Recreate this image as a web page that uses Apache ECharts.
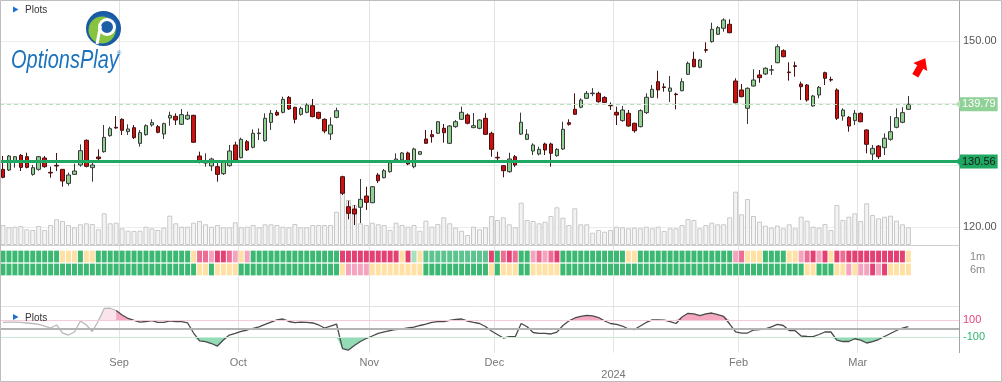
<!DOCTYPE html>
<html><head><meta charset="utf-8">
<script src="https://cdn.jsdelivr.net/npm/echarts@6.0.0/dist/echarts.min.js"></script>
<style>html,body{margin:0;padding:0;background:#fff;}#chart{width:1002px;height:382px;}</style>
</head><body><div id="chart"></div>
<script>
// ---------------- DATA ----------------
const tradingDays = [
  ['2023-08', [4,7,8,9,10,11,14,15,16,17,18,21,22,23,24,25,28,29,30,31]],
  ['2023-09', [1,5,6,7,8,11,12,13,14,15,18,19,20,21,22,25,26,27,28,29]],
  ['2023-10', [2,3,4,5,6,9,10,11,12,13,16,17,18,19,20,23,24,25,26,27,30,31]],
  ['2023-11', [1,2,3,6,7,8,9,10,13,14,15,16,17,20,21,22,24,27,28,29,30]],
  ['2023-12', [1,4,5,6,7,8,11,12,13,14,15,18,19,20,21,22,26,27,28,29]],
  ['2024-01', [2,3,4,5,8,9,10,11,12,16,17,18,19,22,23,24,25,26,29,30,31]],
  ['2024-02', [1,2,5,6,7,8,9,12,13,14,15,16,20,21,22,23,26,27,28,29]],
  ['2024-03', [1,4,5,6,7,8,11,12,13]]
];
const monthLabels = {'2023-09':'Sep','2023-10':'Oct','2023-11':'Nov','2023-12':'Dec','2024-01':'\n2024','2024-02':'Feb','2024-03':'Mar'};
const blankDays = 8;

// [open, high, low, close]
const ohlc = [
[129.30,131.45,127.85,128.01],[129.19,131.61,129.03,131.45],[130.43,131.45,129.57,131.34],[131.56,131.77,129.03,129.62],[131.34,131.99,129.46,129.62],
[128.49,130.00,128.28,129.57],[129.30,131.45,129.08,131.34],[131.13,131.45,129.57,129.73],[128.82,129.73,127.96,128.71],[129.95,131.94,129.03,129.84],
[129.30,129.35,126.50,127.42],[127.04,128.76,126.67,128.39],[128.49,130.22,128.39,129.03],[130.00,133.33,129.73,132.31],[133.98,134.14,129.62,129.78],
[129.57,130.32,127.31,130.00],[131.29,132.53,130.64,131.02],[132.15,136.45,131.99,134.46],[134.73,136.18,134.57,135.86],[136.08,137.90,135.86,135.97],
[137.37,137.53,134.84,135.59],[135.38,136.56,134.84,135.81],[136.02,136.45,134.19,134.41],[133.49,135.65,132.96,135.22],[134.89,136.56,134.73,136.34],
[136.45,137.37,136.18,136.83],[136.18,136.45,135.11,135.27],[135.00,136.83,134.19,136.67],[137.58,138.60,136.34,138.01],[137.85,138.33,136.45,137.26],
[136.56,139.03,136.45,138.12],[137.42,138.60,137.26,138.01],[138.01,138.10,133.60,133.66],[131.45,132.15,130.27,130.64],[130.32,131.88,129.73,130.64],
[129.84,131.18,129.03,130.97],[129.73,130.54,127.31,128.49],[128.60,130.81,128.39,130.54],[129.89,133.23,129.73,132.26],[133.23,133.76,130.64,130.81],
[131.18,134.41,131.08,134.14],[133.76,134.03,132.26,132.42],[132.85,135.75,132.69,135.11],[135.06,135.91,134.03,135.16],[133.92,138.33,133.76,137.53],
[136.88,138.87,135.65,138.33],[138.49,138.87,137.90,138.06],[138.49,141.02,138.33,140.59],[140.91,141.13,138.87,139.03],[139.30,139.41,136.72,137.37],
[138.17,139.41,137.96,139.14],[138.49,139.95,138.33,139.68],[139.57,140.65,137.69,137.80],[138.49,138.60,137.37,137.53],[137.37,137.53,135.11,135.48],
[135.00,137.69,134.03,136.45],[137.69,139.25,137.53,138.76],[128.11,128.27,125.16,125.44],[123.27,124.24,121.24,122.21],[122.90,123.55,120.32,122.10],
[123.18,127.74,120.65,124.47],[125.00,126.50,122.74,123.98],[123.92,126.60,123.85,126.50],[128.39,128.70,127.10,127.47],[127.95,129.35,127.85,129.08],
[128.92,130.60,128.75,130.37],[130.53,131.89,130.43,130.97],[130.81,132.10,130.65,131.94],[131.94,132.15,129.97,130.16],[129.73,132.80,129.47,132.58],
[131.73,132.27,131.60,132.15],[134.19,135.65,133.40,133.50],[134.89,135.65,133.60,134.56],[135.11,137.10,135.00,136.98],[135.92,136.61,133.60,135.21],
[133.50,136.45,133.40,136.29],[136.18,137.25,136.00,136.98],[137.37,139.40,137.26,138.50],[138.06,138.33,136.56,136.73],[136.02,138.39,135.97,136.34],
[135.92,137.37,135.76,137.26],[137.53,138.34,134.84,134.95],[135.11,135.37,131.34,132.53],[131.24,132.15,130.37,131.14],[129.89,130.00,128.02,129.08],
[128.92,131.98,128.76,130.97],[131.34,131.61,129.68,130.00],[134.99,138.44,134.84,136.89],[134.14,135.76,134.03,134.95],[132.26,133.50,131.61,133.23],
[131.77,132.95,131.56,132.53],[133.39,133.60,131.61,132.42],[133.39,133.60,129.73,131.89],[131.50,132.70,131.34,132.53],[132.58,136.98,132.42,135.76],
[136.82,137.37,136.34,136.56],[138.98,141.56,138.06,138.18],[139.31,140.76,139.15,140.48],[140.76,141.94,140.63,141.56],[141.50,142.40,141.10,141.60],
[141.56,141.82,140.05,140.21],[140.90,141.10,140.00,140.10],[139.60,140.11,138.87,139.55],[138.50,139.40,136.45,138.06],[137.15,139.52,136.98,138.87],
[138.34,138.87,136.18,136.29],[136.73,136.82,135.21,135.53],[136.18,138.98,136.08,138.76],[138.44,141.56,138.23,140.92],[140.92,142.90,140.80,142.21],
[143.44,145.21,140.76,142.10],[142.60,143.18,141.82,142.50],[141.89,144.36,140.16,142.42],[141.45,141.66,138.98,141.35],[141.98,143.98,141.89,143.44],
[144.63,146.66,144.52,146.40],[147.05,148.27,145.76,145.85],[145.76,147.10,145.60,146.94],[148.60,149.79,148.11,148.50],[149.89,152.95,149.73,151.89],
[151.08,152.42,150.97,152.15],[152.05,153.66,151.50,153.39],[152.69,153.50,151.24,151.34],[143.55,143.98,139.95,140.05],[142.10,143.06,140.92,141.02],
[139.15,142.53,136.61,142.37],[142.74,145.44,142.63,143.71],[144.52,145.32,143.27,144.08],[144.68,145.76,144.52,145.60],[145.30,146.13,144.52,145.35],
[146.50,149.47,146.40,149.08],[148.44,148.66,147.37,147.47],[145.00,146.56,143.60,144.90],[146.00,146.66,144.24,145.90],[143.06,143.44,140.48,142.63],
[142.90,143.06,140.21,140.48],[139.52,141.29,139.40,141.13],[141.29,142.74,140.76,142.53],[144.89,145.05,142.90,143.98],[143.80,144.24,143.44,143.70],
[142.10,142.37,137.26,137.53],[137.90,139.15,137.15,138.87],[137.69,137.90,135.37,136.29],[137.15,138.87,136.45,138.34],[138.34,138.50,136.89,136.98],
[135.65,135.76,131.89,133.34],[131.77,133.23,130.69,132.69],[133.06,133.23,130.97,131.34],[132.79,135.11,131.61,134.31],[134.14,137.90,133.92,135.37],
[136.08,139.15,135.92,137.63],[136.89,139.31,136.73,138.44],[138.98,141.13,138.87,139.79]
];

const volume = [
20,17.7,18.3,19,15.7,15,19,15,20,25.7,
24,20,17.7,20.7,21.7,21,15.7,31.7,21.7,22.3,
16.7,14.3,14,14.3,18.3,16.7,15,17.3,29.3,21.7,
18.3,18.3,22.3,24,20.7,18.3,20,17.7,17.7,22.7,
17.7,18.3,20,17.7,20.7,20.7,20,18.3,17.7,21,
17.7,17.7,20,20,20,20,33.3,65,45,40,
21.7,20,22.3,20.7,20,15,22.3,20,18.3,20,
14.3,24.3,18.3,21,27.7,21.7,17.3,14.3,10,18.3,
15.7,17.7,29,25,27.7,20.7,17.7,42.3,25,24,
21.7,23.3,29,37.7,27.3,20,36.7,20.7,20.7,12.3,
15,13.3,15,18.3,17.7,16.7,17.3,16.7,18.3,16.7,
18.3,14,16.7,16.7,20,26,25,16.7,20,22.3,
20.7,20.7,27.7,53.3,30.7,46,29,23.3,19.3,17.3,
19.3,16.7,20.7,16.7,28.3,24.3,18.3,17.3,21,15,
40,25,28.3,31.7,24,41.7,30,26.7,28.3,29.3,
24.3,20.7,17.7
];

const cci = [
72,77,77,72,66,60,49,31,8,43,
-50,-73,-38,89,43,-32,89,234,236,210,
158,118,95,77,83,92,72,72,91,83,
81,66,-50,-140,-148,-171,-200,-131,-73,-55,
-32,-15,5,22,49,77,101,112,83,69,
77,72,66,43,8,31,54,-231,-246,-194,
-148,-113,-84,-55,-38,-21,-9,-1,8,17,
37,54,72,81,81,95,106,112,87,72,
60,25,-27,-67,-108,-92,-92,60,23,-44,
-53,-55,-61,-40,37,89,124,141,155,147,
129,89,60,49,31,-3,-9,31,72,101,
101,98,83,60,135,178,172,150,172,181,
162,141,54,-36,-50,-50,-15,-9,-1,20,
49,37,-21,-23,-84,-90,-92,-67,-38,-38,
-131,-148,-148,-116,-131,-165,-148,-125,-90,-55,
-21,8,25
];
const cciWarmupDays = 20; // first days drawn faded

// signal rows, run-length encoded: [code, number of days]
const signal1mRuns = [['G',10],['Y',3],['G',1],['Y',2],['G',16],['Y',1],['r',2],['P',1],['R',2],['r',1],['P',1],['Y',1],['P',1],['G',15],['R',10],['Y',1],['R',1],['l',1],['Y',1],['L',11],['R',1],['G',1],['r',1],['R',1],['r',1],['G',2],['P',1],['r',1],['P',1],['r',1],['R',1],['G',11],['Y',2],['G',16],['P',1],['r',1],['Y',3],['G',4],['Y',2],['P',1],['r',1],['R',1],['P',1],['R',1],['Y',1],['R',1],['r',1],['R',10],['Y',1]];
const signal6mRuns = [['G',33],['Y',2],['G',1],['Y',4],['G',17],['Y',1],['P',4],['Y',9],['G',11],['Y',1],['G',1],['Y',3],['G',2],['Y',5],['G',41],['Y',2],['G',3],['Y',2],['P',1],['Y',1],['P',2],['R',1],['P',1],['R',1],['Y',4]];
const signalRows = ['6m', '1m'];

const lastPrice = 139.79;
const supportPrice = 130.56;
const priceTicks = [120, 130, 140, 150];
const priceLabels = [120, 150];
const oscLevels = [100, -100];
const arrowMark = {dayOffset: 1.5, price: 145.8};

// ---------------- BUILD ----------------
const FONT = '"Liberation Sans", Arial, sans-serif';
const dates = [];
const monthStart = {};
tradingDays.forEach(([m, days]) => {
  days.forEach((d, k) => {
    if (k === 0 && monthLabels[m]) monthStart[dates.length] = monthLabels[m];
    dates.push(m + '-' + String(d).padStart(2, '0'));
  });
});
const categories = dates.concat(Array.from({length: blankDays}, (_, k) => 'next-' + (k + 1)));
const isMonthStart = i => monthStart[i] !== undefined;

const candleData = ohlc.map(([o, h, l, c]) => [o, c, l, h]);
const heatColors = {G:'#0ba650', L:'#36b573', l:'#8fd9ad', Y:'#ffd98e', P:'#f28db0', r:'#e8497b', R:'#dc1150'};
function expand(runs){ const out=[]; runs.forEach(([c,n])=>{ for(let k=0;k<n;k++) out.push(c); }); return out; }
const heatData = [];
[[expand(signal6mRuns), 0], [expand(signal1mRuns), 1]].forEach(([codes, row]) => {
  codes.forEach((c, i) => heatData.push({value: [i, row], itemStyle: {color: heatColors[c]}}));
});
const W = cciWarmupDays;
const early = (arr) => arr.map((v, i) => i < W ? v : '-');
const late = (arr) => arr.map((v, i) => i >= W - 1 ? v : '-');
const pinkBase = cci.map(() => 100);
const pinkFill = cci.map(v => Math.max(v - 100, 0));
const greenBase = cci.map(v => Math.min(v, -100));
const greenFill = cci.map(v => Math.max(-100 - v, 0));
const arrowIdx = Math.round(dates.length - 1 + arrowMark.dayOffset);

function baseX(g, extra) {
  return Object.assign({type:'category', gridIndex:g, data:categories, boundaryGap:true,
    axisLine:{show:false}, axisTick:{show:false}, axisLabel:{show:false}, splitLine:{show:false}}, extra || {});
}
function oscLine(name, data, extra) {
  return Object.assign({type:'line', name, xAxisIndex:3, yAxisIndex:3, data, symbol:'none', silent:true,
    connectNulls:false, lineStyle:{opacity:0}}, extra);
}

const TAG_ARROW = 'path://M0,0 L10,0 L5,10 Z';

const option = {
  animation: false,
  backgroundColor: '#fff',
  textStyle: {fontFamily: FONT},
  grid: [
    {left:0, right:43, top:0, height:245},
    {left:0, right:43, top:145, height:100},
    {left:0, right:43, top:250, height:26},
    {left:0, right:43, top:306, height:46.7},
    {left:0, right:43, top:0, height:352.7}
  ],
  xAxis: [
    baseX(0, {axisLine:{show:true, lineStyle:{color:'#cfcfcf'}}}),
    baseX(1),
    baseX(2),
    baseX(3, {axisLine:{show:true, lineStyle:{color:'#9a9a9a'}},
      axisLabel:{show:true, interval:(i) => isMonthStart(i), formatter:(v, i) => monthStart[i] || '',
        color:'#777', fontSize:11, fontFamily:FONT, margin:4, lineHeight:12, padding:[0,6,0,0]}}),
    baseX(4, {splitLine:{show:true, interval:(i) => isMonthStart(i), lineStyle:{color:'#e3e3e3', width:1}}})
  ],
  yAxis: [
    {type:'value', gridIndex:0, position:'right', min:117.10, max:156.61,
      axisLine:{show:false}, axisTick:{show:false, customValues:priceTicks},
      splitLine:{show:true, lineStyle:{color:'#ececec'}},
      axisLabel:{customValues:priceLabels, formatter:v => v.toFixed(2), color:'#555', fontSize:11, margin:4, fontFamily:FONT}},
    {type:'value', gridIndex:1, min:0, max:100, show:false},
    {type:'category', gridIndex:2, data:signalRows, position:'right',
      axisLine:{show:false}, axisTick:{show:false}, splitLine:{show:false},
      axisLabel:{interval:0, color:'#8a8a8a', fontSize:11, margin:11, fontFamily:FONT}},
    {type:'value', gridIndex:3, position:'right', min:-277, max:262,
      axisLine:{show:false}, axisTick:{show:false}, splitLine:{show:false},
      axisLabel:{customValues:oscLevels, margin:4,
        formatter:v => v > 0 ? '{p|' + v + '}' : '{g|' + v + '}',
        rich:{p:{color:'#e8457a', fontSize:11, fontFamily:FONT}, g:{color:'#2eb574', fontSize:11, fontFamily:FONT}}}},
    {type:'value', gridIndex:4, position:'right', min:0, max:1,
      axisLine:{show:true, lineStyle:{color:'#a5a5a5'}}, axisTick:{show:false}, axisLabel:{show:false}, splitLine:{show:false}}
  ],
  series: [
    {type:'candlestick', name:'Price', xAxisIndex:0, yAxisIndex:0, data:candleData, barWidth:4, z:3,
      itemStyle:{color:'#8fd18f', color0:'#cc1111', borderColor:'#3a3a3a', borderColor0:'#4a1010', borderWidth:1},
      markLine:{silent:true, symbol:['none', TAG_ARROW], symbolSize:[13, 7], animation:false,
        data:[
          {yAxis:lastPrice, lineStyle:{color:'#b5e0bb', type:[4,3], width:1},
            label:{show:true, position:'end', distance:1, formatter:lastPrice.toFixed(2), color:'#fff',
              backgroundColor:'#8fd197', padding:[2,2,1,2], fontSize:11, fontFamily:FONT}},
          {yAxis:supportPrice, lineStyle:{color:'#1fa862', type:'solid', width:3},
            label:{show:true, position:'end', distance:1, formatter:supportPrice.toFixed(2), color:'#1a1a1a',
              backgroundColor:'#1fa862', padding:[2,2,1,2], fontSize:11, fontFamily:FONT}}
        ]},
      markPoint:{silent:true, symbol:'path://M6,0 L12,7 L8.6,7 L8.6,14 L3.4,14 L3.4,7 L0,7 Z', symbolSize:[16,20], symbolRotate:-30,
        itemStyle:{color:'#ff0000'}, label:{show:false},
        data:[{coord:[categories[arrowIdx], arrowMark.price]}]}
    },
    {type:'bar', name:'Volume', xAxisIndex:1, yAxisIndex:1, data:volume, barWidth:5, z:1,
      itemStyle:{color:'#f4f4f4', borderColor:'#c8c8c8', borderWidth:1}},
    {type:'scatter', name:'Signals', xAxisIndex:2, yAxisIndex:2, data:heatData, symbol:'rect', symbolSize:[5, 11.7], z:2},
    oscLine('levels', pinkBase.map(() => '-'), {z:1,
      markLine:{silent:true, symbol:'none', label:{show:false}, animation:false,
        data:[
          {yAxis:262, lineStyle:{color:'#e3e3e3', width:1, type:'solid'}},
          {yAxis:100, lineStyle:{color:'#f9cbd8', width:1, type:'solid'}},
          {yAxis:-100, lineStyle:{color:'#c6ecd7', width:1, type:'solid'}},
          {yAxis:0, lineStyle:{color:'#b3b3b3', width:2, type:'solid'}}
        ]}}),
    oscLine('posBaseEarly', early(pinkBase), {stack:'posE', z:2}),
    oscLine('posFillEarly', early(pinkFill), {stack:'posE', z:2, areaStyle:{color:'#fbe3eb', opacity:1}}),
    oscLine('posBase', late(pinkBase), {stack:'pos', z:2}),
    oscLine('posFill', late(pinkFill), {stack:'pos', z:2, areaStyle:{color:'#f5a9c1', opacity:1}}),
    oscLine('negBase', greenBase, {stack:'neg', stackStrategy:'all', z:2}),
    oscLine('negFill', greenFill, {stack:'neg', stackStrategy:'all', z:2, areaStyle:{color:'#93dcb6', opacity:1}}),
    {type:'line', name:'OscillatorEarly', xAxisIndex:3, yAxisIndex:3, data:early(cci), symbol:'none', z:4,
      lineStyle:{width:1.3, color:'#b8b8b8'}, itemStyle:{color:'#b8b8b8'}},
    {type:'line', name:'Oscillator', xAxisIndex:3, yAxisIndex:3, data:late(cci), symbol:'none', z:4,
      lineStyle:{width:1.3, color:'#4a4a4a'}, itemStyle:{color:'#4a4a4a'}}
  ],
  graphic: [
    {type:'rect', silent:true, z:100, shape:{x:0.5, y:0.5, width:1001, height:381}, style:{fill:'none', stroke:'#bdbdbd', lineWidth:1}},
    {type:'polygon', silent:true, z:100, shape:{points:[[13,6.5],[18.5,9.5],[13,12.5]]}, style:{fill:'#1a6fd1'}},
    {type:'text', silent:true, z:100, x:25, y:10, style:{text:'Plots', fill:'#333', font:'10px ' + FONT, verticalAlign:'middle'}},
    {type:'polygon', silent:true, z:100, shape:{points:[[13,314],[18.5,317],[13,320]]}, style:{fill:'#1a6fd1'}},
    {type:'text', silent:true, z:100, x:25, y:318, style:{text:'Plots', fill:'#333', font:'10px ' + FONT, verticalAlign:'middle'}},
    // logo
    {type:'circle', silent:true, z:100, shape:{cx:103.5, cy:28.5, r:17.5},
      style:{fill:new echarts.graphic.RadialGradient(0.5,0.5,0.5,[{offset:0,color:'#2f86cc'},{offset:1,color:'#16569e'}])}},
    {type:'circle', silent:true, z:101, shape:{cx:102, cy:30, r:13.5}, style:{fill:'#86c440'}},
    {type:'circle', silent:true, z:102, shape:{cx:107, cy:27, r:7.5}, style:{fill:'#1d5fa6', stroke:'#fff', lineWidth:3}},
    {type:'line', silent:true, z:102, shape:{x1:100.5, y1:26, x2:97, y2:44}, style:{stroke:'#fff', lineWidth:3}},
    {type:'text', silent:true, z:100, x:11, y:61.5, scaleX:0.8, style:{text:'OptionsPlay', fill:'#1a72bd',
      font:'italic 25px ' + FONT, verticalAlign:'middle'}},
    {type:'text', silent:true, z:100, x:117, y:53, style:{text:'®', fill:'#1a72bd', font:'6px ' + FONT, verticalAlign:'middle'}}
  ]
};

const chart = echarts.init(document.getElementById('chart'), null, {renderer:'canvas'});
chart.setOption(option);
</script>
</body></html>
